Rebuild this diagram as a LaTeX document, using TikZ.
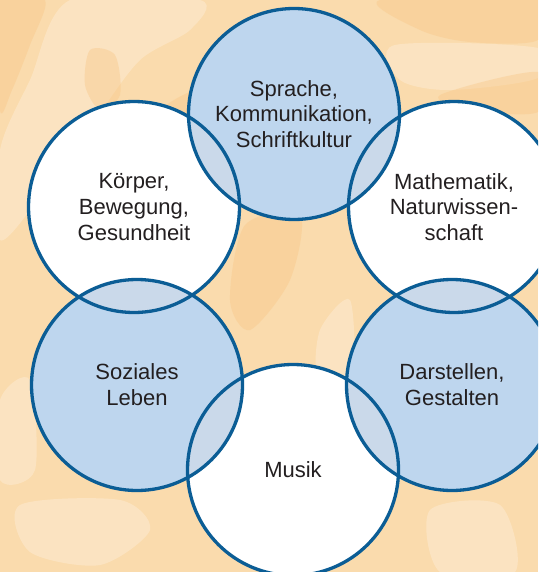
\documentclass[tikz,border=0pt]{standalone}
\usepackage{fontspec}
\setmainfont{Liberation Sans}
\definecolor{bgbase}{HTML}{FADBAD}
\definecolor{bglight}{HTML}{FDEBD2}
\definecolor{bgdark}{HTML}{F8C685}
\definecolor{cblue}{HTML}{BED6EE}
\definecolor{clens}{HTML}{CAD9EA}
\definecolor{cline}{HTML}{0B5D95}
\definecolor{ctext}{HTML}{231F20}
\tikzset{
  bubble/.style={circle, minimum size=211pt, inner sep=0pt, align=center,
    text=ctext, font=\fontsize{22}{25.8}\selectfont},
  whitebubble/.style={bubble, fill=white},
  bluebubble/.style={bubble, fill=cblue},
  ring/.style={draw=cline, line width=3.3pt},
  lightwash/.style={fill=bglight, opacity=0.55},
  darkwash/.style={fill=bgdark, opacity=0.4},
}
\begin{document}
\begin{tikzpicture}[x=1pt,y=-1pt]
\useasboundingbox (0,0) rectangle (538,572);
\clip (0,0) rectangle (538,572);
% background
\fill[bgbase] (0,0) rectangle (538,572);
\fill[lightwash] plot[smooth cycle] coordinates {(70,0) (200,0) (190,30) (140,60) (95,120) (45,190) (0,240) (0,150) (30,80)};
\fill[darkwash] plot[smooth cycle] coordinates {(0,0) (45,0) (30,45) (12,90) (0,110)};
\fill[darkwash] plot[smooth cycle] coordinates {(90,50) (115,55) (120,95) (100,110) (85,85)};
\fill[darkwash] plot[smooth cycle] coordinates {(380,0) (538,0) (538,40) (470,42) (420,30)};
\fill[lightwash] plot[smooth cycle] coordinates {(395,45) (538,48) (538,78) (450,90) (400,80)};
\fill[darkwash] plot[smooth cycle] coordinates {(440,95) (538,72) (538,112) (470,110)};
\fill[darkwash] plot[smooth cycle] coordinates {(245,225) (300,215) (290,280) (250,330) (230,300)};
\fill[lightwash] plot[smooth cycle] coordinates {(320,330) (350,300) (352,380) (318,380)};
\fill[lightwash] plot[smooth cycle] coordinates {(0,400) (30,380) (35,470) (0,480)};
\fill[lightwash] plot[smooth cycle] coordinates {(20,505) (120,500) (150,530) (100,565) (30,552)};
\fill[lightwash] plot[smooth cycle] coordinates {(430,510) (500,505) (515,572) (440,572)};
\fill[darkwash] plot[smooth cycle] coordinates {(150,120) (200,90) (210,140) (170,160)};
% bubbles
\node[bluebubble]  (S)  at (294,114) {Sprache,\\Kommunikation,\\Schriftkultur};
\node[whitebubble] (K)  at (134,207) {Körper,\\Bewegung,\\Gesundheit};
\node[whitebubble] (M)  at (454,207) {Mathematik,\\Naturwissen-\\schaft};
\node[bluebubble]  (So) at (137,385) {Soziales\\Leben};
\node[bluebubble]  (D)  at (452,385) {Darstellen,\\Gestalten};
\node[whitebubble] (Mu) at (293,470) {Musik};
% lenses
\foreach \a/\b in {S/K, S/M, K/So, M/D, So/Mu, D/Mu}{
  \begin{scope}
    \clip (\a.center) circle (105.5pt);
    \fill[clens] (\b.center) circle (105.5pt);
  \end{scope}
}
% rings
\foreach \n in {S, K, M, So, D, Mu}{
  \draw[ring] (\n.center) circle (105.5pt);
}
\end{tikzpicture}
\end{document}
